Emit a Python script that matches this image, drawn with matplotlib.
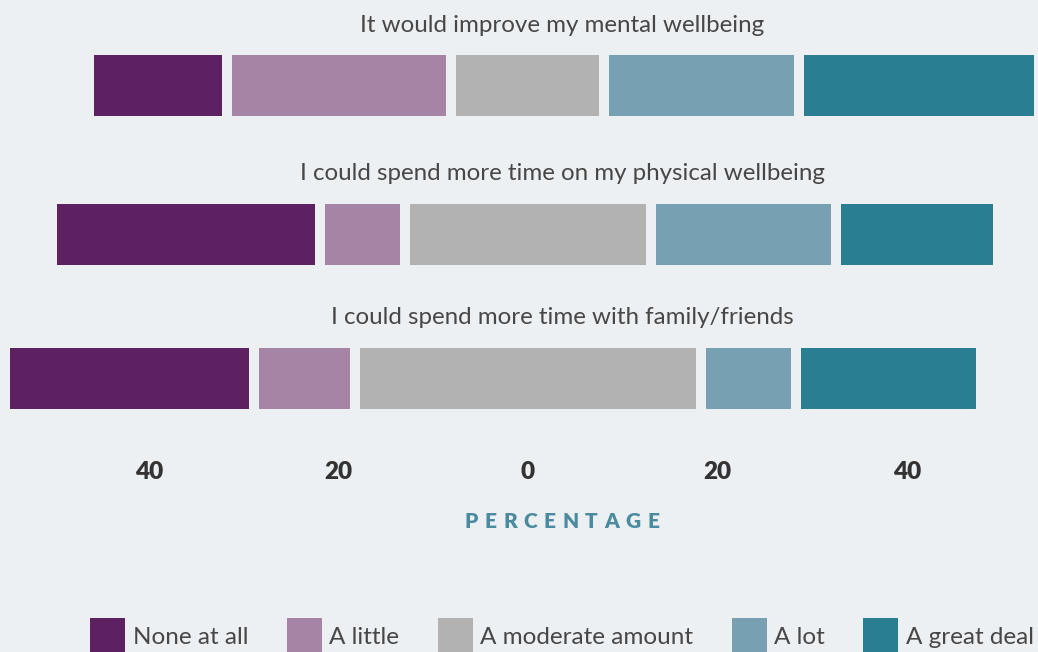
import numpy as np
import matplotlib
matplotlib.use("Agg")
import matplotlib.pyplot as plt
from matplotlib.patches import Patch
from matplotlib.ticker import FuncFormatter

# Survey responses (% of respondents) per statement
categories = ["None at all", "A little", "A moderate amount", "A lot", "A great deal"]
statements = [
    "It would improve my mental wellbeing",
    "I could spend more time on my physical wellbeing",
    "I could spend more time with family/friends",
]
mental_wellbeing = [14.6, 23.7, 16.1, 20.6, 25.3]
physical_wellbeing = [28.3, 8.9, 26.0, 19.5, 17.1]
family_friends = [26.3, 10.6, 36.5, 10.1, 19.5]
tick_values = [-40, -20, 0, 20, 40]

colors = ["#5D2060", "#A684A6", "#B2B2B2", "#78A0B3", "#2A7E92"]
bg = "#ECF0F3"
text_dark = "#474747"
axis_title_color = "#4A8BA0"

plt.rcParams["font.family"] = ["Lato", "DejaVu Sans"]

W, H = 1038, 652
fig = plt.figure(figsize=(W / 100, H / 100), dpi=100, facecolor=bg)

x_min, x_max = -55.70, 53.85
# (top, bottom) pixel extents of each row's plotting band
row_bands = [(50, 121), (199, 270), (343, 414)]
rows = [mental_wellbeing, physical_wellbeing, family_friends]

axes = []
for vals, label, (top, bottom) in zip(rows, statements, row_bands):
    ax = fig.add_axes([0, 1 - bottom / H, 1, (bottom - top) / H])
    ax.set_facecolor(bg)
    vals = np.asarray(vals, dtype=float)
    # centre the neutral category on zero
    start = -(vals[0] + vals[1] + vals[2] / 2)
    lefts = start + np.concatenate([[0], np.cumsum(vals)[:-1]])
    for v, l, c in zip(vals, lefts, colors):
        ax.barh(0, v, left=l, height=1.0, color=c, edgecolor=bg, linewidth=7.2)
    ax.set_xlim(x_min, x_max)
    ax.set_ylim(-0.5, 0.5)
    for s in ax.spines.values():
        s.set_visible(False)
    ax.set_yticks([])
    ax.set_xticks([])
    fig.text(562 / W, 1 - (top - 18.5) / H, label, ha="center", va="baseline",
             fontsize=17.4, color=text_dark)
    axes.append(ax)

# shared value axis under the last row
ax = axes[-1]
ax.set_xticks(tick_values)
ax.xaxis.set_major_formatter(FuncFormatter(lambda v, p: f"{abs(int(v))}"))
ax.tick_params(axis="x", length=0, pad=34, labelsize=17.5, labelcolor="#333333")
for t in ax.get_xticklabels():
    t.set_fontweight("heavy")

# letter-spaced axis title
renderer = fig.canvas.get_renderer()
title = "PERCENTAGE"
tracking = 6.5
fs = 15
widths = []
for ch in title:
    t = fig.text(0, 0, ch, fontsize=fs, fontweight="heavy")
    widths.append(t.get_window_extent(renderer).width)
    t.remove()
total = sum(widths) + tracking * (len(title) - 1)
x = 562 - total / 2
for ch, w in zip(title, widths):
    fig.text(x / W, 1 - 522 / H, ch, fontsize=fs, fontweight="heavy",
             color=axis_title_color, ha="left", va="center")
    x += w + tracking

# legend along the bottom edge
handles = [Patch(facecolor=c, edgecolor="none") for c in colors]
fs_leg = 17.5
fig.legend(handles, categories, loc="center", bbox_to_anchor=(562 / W, 1 - 636 / H),
           ncol=5, frameon=False, fontsize=fs_leg, handlelength=1.43, handleheight=1.85,
           handletextpad=0.3, columnspacing=1.6, borderpad=0, labelcolor=text_dark)

fig.savefig("out.png", dpi=100, facecolor=bg)
